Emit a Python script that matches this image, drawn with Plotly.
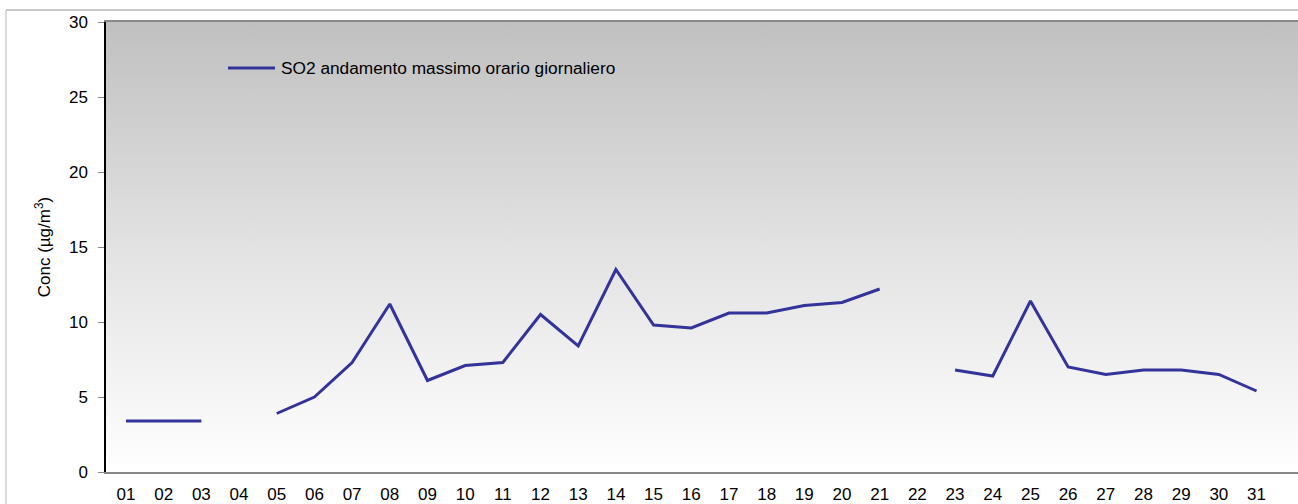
import plotly.graph_objects as go

days = [f"{d:02d}" for d in range(1, 32)]
so2 = [3.4, 3.4, 3.4, None, 3.9, 5.0, 7.3, 11.2, 6.1, 7.1, 7.3, 10.5, 8.4, 13.5, 9.8,
       9.6, 10.6, 10.6, 11.1, 11.3, 12.2, None, 6.8, 6.4, 11.4, 7.0, 6.5, 6.8, 6.8, 6.5, 5.4]
y_ticks = [0, 5, 10, 15, 20, 25, 30]
series_name = "SO2 andamento massimo orario giornaliero"
y_title = "Conc (µg/m<sup>3</sup>)"
line_color = "#333399"

xpos = list(range(1, len(days) + 1))
x_lo, x_hi = 0.47, 32.1

fig = go.Figure()

# gradient background
fig.add_trace(go.Scatter(
    x=[x_lo, x_hi + 1, x_hi + 1, x_lo, x_lo], y=[0, 0, 30, 30, 0],
    fill="toself", mode="none", hoverinfo="skip", showlegend=False,
    fillgradient=dict(type="vertical",
                      colorscale=[[0, "#ffffff"], [0.5, "#e2e2e2"], [1, "#c0c0c0"]]),
))

fig.add_trace(go.Scatter(
    x=xpos, y=so2, mode="lines", name=series_name, showlegend=False,
    line=dict(color=line_color, width=3), connectgaps=False,
))

fig.update_layout(
    width=1298, height=504,
    margin=dict(l=106, r=0, t=22, b=32, pad=0),
    paper_bgcolor="#ffffff", plot_bgcolor="#ffffff",
    font=dict(family="Liberation Sans", size=17, color="#000000"),
    showlegend=False,
    xaxis=dict(range=[x_lo, x_hi], tickvals=xpos, ticktext=days,
               showgrid=False, zeroline=False, showline=True, mirror=True,
               linecolor="#888888", linewidth=2, ticks="",
               tickfont=dict(size=17), ticklabelstandoff=6),
    yaxis=dict(range=[0, 30], tickvals=y_ticks, showgrid=True,
               gridcolor="#a0a0a0", gridwidth=1, zeroline=False,
               showline=True, linecolor="#000000", linewidth=1.5,
               ticks="outside", ticklen=6, tickcolor="#888888",
               tickfont=dict(size=17), ticklabelstandoff=7,
               title=dict(text=y_title, font=dict(size=17), standoff=14)),
    shapes=[
        dict(type="line", xref="paper", yref="paper", x0=-0.0839, x1=1.0,
             y0=1.0267, y1=1.0267, line=dict(color="#b4b4b4", width=1.5)),
        dict(type="line", xref="paper", yref="paper", x0=-0.0839, x1=-0.0839,
             y0=1.0267, y1=-0.2, line=dict(color="#d0d0d0", width=1.5)),
        dict(type="line", xref="paper", yref="paper", x0=0.1023, x1=0.1418,
             y0=0.8978, y1=0.8978, line=dict(color=line_color, width=3)),
    ],
    annotations=[
        dict(text=series_name, xref="paper", yref="paper", x=0.1451, y=0.8978,
             xanchor="left", yanchor="middle", showarrow=False,
             font=dict(size=17.3)),
    ],
)

fig.write_html(
    "out.html", config={"displayModeBar": False},
    post_script=("document.body.style.margin='0';document.body.style.overflow='hidden';"
                 "document.documentElement.style.overflow='hidden';"))
